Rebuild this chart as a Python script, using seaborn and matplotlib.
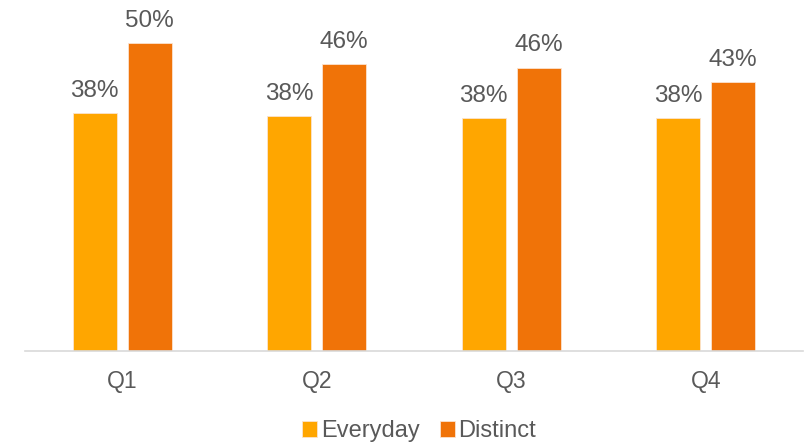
import matplotlib
matplotlib.use("Agg")
import matplotlib.pyplot as plt
import seaborn as sns
import pandas as pd

quarters = ["Q1", "Q2", "Q3", "Q4"]
everyday = [38.4, 37.9, 37.7, 37.6]
distinct = [49.8, 46.3, 45.8, 43.4]
series_names = ["Everyday", "Distinct"]
colors = ["#FFA600", "#F07308"]

df = pd.DataFrame({
    "quarter": quarters * 2,
    "value": everyday + distinct,
    "series": [series_names[0]] * 4 + [series_names[1]] * 4,
})

sns.set_style("white")
plt.rcParams["font.family"] = ["Liberation Sans", "DejaVu Sans"]
text_color = "#595959"

fig = plt.figure(figsize=(8.08, 4.46), dpi=100)
ax = fig.add_axes([25 / 808, 95 / 446, 778 / 808, 341 / 446])

sns.barplot(data=df, x="quarter", y="value", hue="series", order=quarters,
            hue_order=series_names, palette=colors, saturation=1,
            width=0.566, gap=0.2,
            edgecolor="#FBE3CF", linewidth=0.6, ax=ax)

for cont in ax.containers:
    ax.bar_label(cont, labels=[f"{v:.0f}%" for v in cont.datavalues],
                 padding=8, fontsize=17.5, color=text_color)

ax.set_ylim(0, 55.1)
ax.set_xlim(-0.5, 3.5)
ax.set_xlabel("")
ax.set_ylabel("")
ax.set_yticks([])
for s in ["top", "left", "right"]:
    ax.spines[s].set_visible(False)
ax.spines["bottom"].set_color("#D9D9D9")
ax.spines["bottom"].set_linewidth(1.2)
ax.tick_params(axis="x", length=0, pad=14, labelsize=16.5, labelcolor=text_color)

handles, labels = ax.get_legend_handles_labels()
ax.get_legend().remove()
fig.legend(handles, labels, loc="center", bbox_to_anchor=(419 / 808, 1 - 431 / 446),
           ncol=2, frameon=False, fontsize=17, labelcolor=text_color,
           handlelength=0.65, handleheight=0.65, handletextpad=0.15,
           columnspacing=0.85)

fig.savefig("out.png", dpi=100)
